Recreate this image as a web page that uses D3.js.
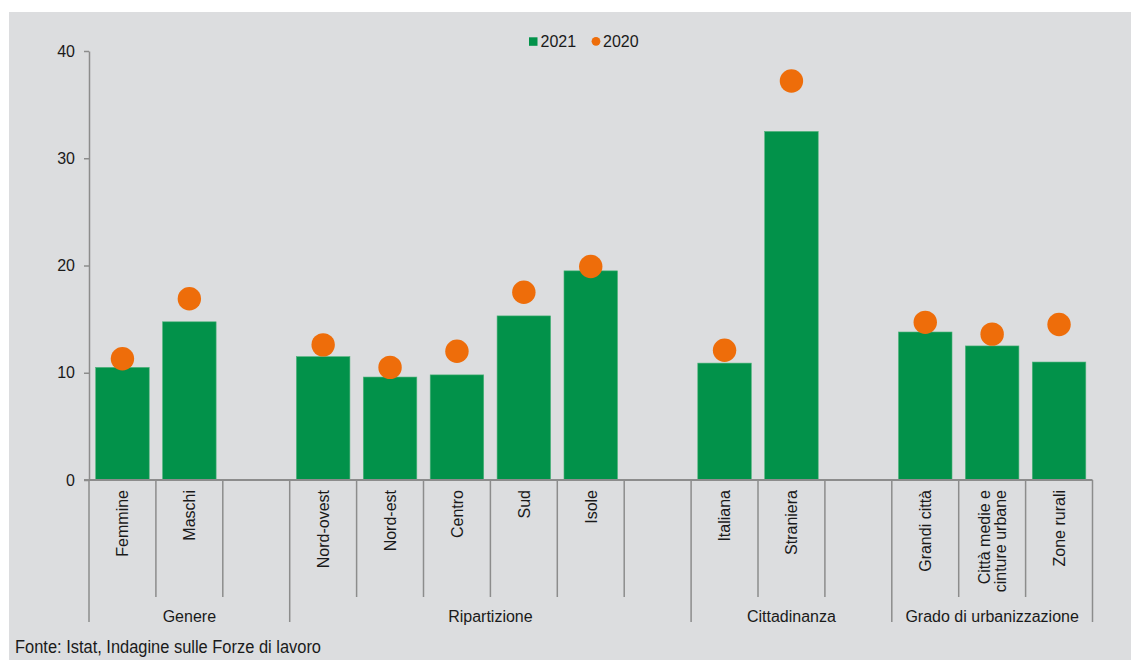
<!DOCTYPE html>
<html>
<head>
<meta charset="utf-8">
<script src="https://cdn.jsdelivr.net/npm/d3@7"></script>
<style>
  html, body { margin: 0; padding: 0; background: #ffffff; }
  svg { display: block; }
  text { font-family: "Liberation Sans", Arial, sans-serif; fill: #1a1a1a; }
</style>
</head>
<body>
<svg id="chart" width="1131" height="660"></svg>
<script>
// ---- data ----
const slots = ["Femmine", "Maschi", "_b1", "Nord-ovest", "Nord-est", "Centro", "Sud", "Isole", "_b2",
               "Italiana", "Straniera", "_b3", "Grandi città", "Città medie e\ncinture urbane", "Zone rurali"];
const categories = ["Femmine", "Maschi", "Nord-ovest", "Nord-est", "Centro", "Sud", "Isole",
                    "Italiana", "Straniera", "Grandi città", "Città medie e\ncinture urbane", "Zone rurali"];
const values2021 = [10.5, 14.75, 11.5, 9.6, 9.8, 15.3, 19.5, 10.9, 32.5, 13.8, 12.5, 11.0];
const values2020 = [11.3, 16.9, 12.6, 10.5, 12.0, 17.5, 19.9, 12.1, 37.2, 14.7, 13.6, 14.5];
const groupNames = ["Genere", "Ripartizione", "Cittadinanza", "Grado di urbanizzazione"];
const groupStart = ["Femmine", "Nord-ovest", "Italiana", "Grandi città"];
const groupEnd = ["_b1", "_b2", "_b3", "Zone rurali"];
const yTicks = [0, 10, 20, 30, 40];
const seriesNames = ["2021", "2020"];
const source = "Fonte: Istat, Indagine sulle Forze di lavoro";

const green = "#02924a";
const orange = "#ee6d0a";
const axisColor = "#8c8c8c";

const svg = d3.select("#chart");
svg.append("rect").attr("x", 9).attr("y", 12).attr("width", 1122).attr("height", 648).attr("fill", "#dcdddf");

const x = d3.scaleBand().domain(slots).range([89, 1092.5]).paddingInner(0.2).paddingOuter(0.1);
const y = d3.scaleLinear().domain([0, 40]).range([480, 51]);
const step = x.step();
const left = k => x(k) - step * 0.1;
const right = k => x(k) + x.bandwidth() + step * 0.1;

const data = categories.map((c, i) => ({ c, v21: values2021[i], v20: values2020[i] }));

// y axis
const yAxis = d3.axisLeft(y).tickValues(yTicks).tickSize(5).tickPadding(9).tickSizeOuter(0);
const gy = svg.append("g").attr("transform", "translate(89,0)").call(yAxis);
gy.select(".domain").attr("stroke", axisColor).attr("stroke-width", 1.5);
gy.selectAll(".tick line").attr("stroke", axisColor).attr("stroke-width", 1.5);
gy.selectAll(".tick text").attr("font-size", 16).attr("fill", "#1a1a1a")
  .style("font-family", '"Liberation Sans", Arial, sans-serif');

// bars
svg.append("g").selectAll("rect").data(data).join("rect")
  .attr("x", d => x(d.c)).attr("width", x.bandwidth())
  .attr("y", d => y(d.v21)).attr("height", d => y(0) - y(d.v21))
  .attr("fill", green).attr("stroke", "#4fb37a").attr("stroke-width", 0.6);

// dots
svg.append("g").selectAll("circle").data(data).join("circle")
  .attr("cx", d => x(d.c) + x.bandwidth() / 2).attr("cy", d => y(d.v20))
  .attr("r", 11.7).attr("fill", orange);

// x axis baseline
svg.append("line").attr("x1", 84).attr("x2", 1092.5).attr("y1", y(0)).attr("y2", y(0))
  .attr("stroke", axisColor).attr("stroke-width", 2);

// category separator ticks
const bounds = slots.map(k => left(k)).concat([right(slots[slots.length - 1])]);
const groupBounds = new Set(groupStart.map(k => Math.round(left(k) * 10)).concat([Math.round(right("Zone rurali") * 10)]));
svg.append("g").selectAll("line").data(bounds).join("line")
  .attr("x1", d => d).attr("x2", d => d)
  .attr("y1", y(0)).attr("y2", d => groupBounds.has(Math.round(d * 10)) ? 622 : 597)
  .attr("stroke", axisColor).attr("stroke-width", 1.5);

// category labels (rotated)
const lab = svg.append("g").selectAll("text").data(categories).join("text")
  .attr("transform", d => `translate(${x(d) + x.bandwidth() / 2},490) rotate(-90)`)
  .attr("text-anchor", "end").attr("font-size", 16);
lab.each(function (d) {
  const lines = d.split("\n");
  const t = d3.select(this);
  lines.forEach((ln, i) => {
    t.append("tspan").attr("x", 0)
      .attr("y", (i - (lines.length - 1) / 2) * 16.5)
      .attr("dy", "0.36em").text(ln);
  });
});

// group labels
svg.append("g").selectAll("text").data(groupNames).join("text")
  .attr("x", (d, i) => (left(groupStart[i]) + right(groupEnd[i])) / 2)
  .attr("y", 621.5).attr("text-anchor", "middle").attr("font-size", 16).text(d => d);

// legend
const lg = svg.append("g");
lg.append("rect").attr("x", 529).attr("y", 37.3).attr("width", 8.5).attr("height", 8.5).attr("fill", green);
lg.append("text").attr("x", 540.5).attr("y", 46.7).attr("font-size", 16).text(seriesNames[0]);
lg.append("circle").attr("cx", 596).attr("cy", 41.3).attr("r", 4.4).attr("fill", orange);
lg.append("text").attr("x", 603).attr("y", 46.7).attr("font-size", 16).text(seriesNames[1]);

// source
svg.append("text").attr("x", 15).attr("y", 653.3)
  .attr("font-size", 17.5).attr("fill", "#333")
  .style("font-family", '"Liberation Sans Narrow", "Liberation Sans", Arial, sans-serif')
  .attr("textLength", 306).attr("lengthAdjust", "spacingAndGlyphs")
  .text(source);
</script>
</body>
</html>
